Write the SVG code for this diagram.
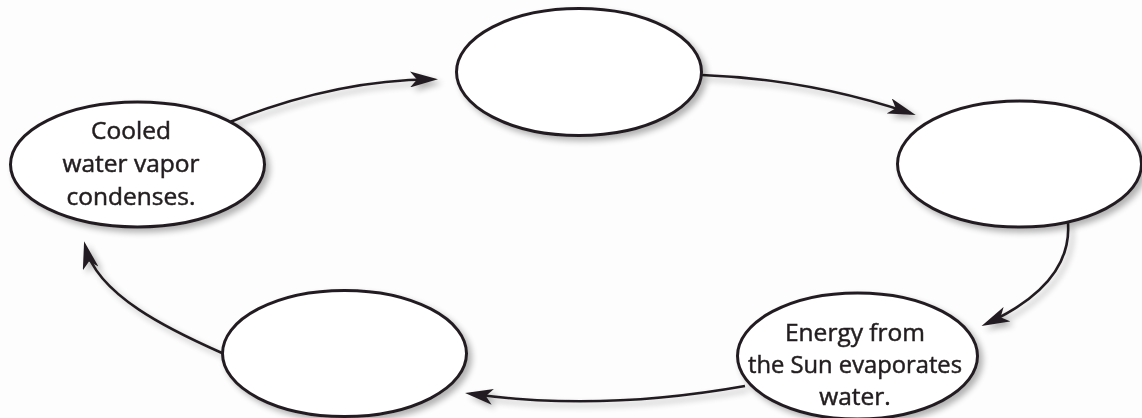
<svg xmlns="http://www.w3.org/2000/svg" width="1142" height="418" viewBox="0 0 1142 418">
  <style>
    .node ellipse { fill: #ffffff; stroke: #231f20; stroke-width: 3; }
    .label { font-family: "Open Sans", "Noto Sans", "Liberation Sans", sans-serif; font-size: 24.5px; fill: #231f20; stroke: #231f20; stroke-width: 0.5; text-anchor: middle; }
    .conn { fill: none; stroke: #231f20; stroke-width: 2.6; marker-end: url(#arrow); }
  </style>
  <defs>
    <filter id="shadow" x="-20%" y="-20%" width="150%" height="150%">
      <feGaussianBlur in="SourceAlpha" stdDeviation="3"/>
      <feOffset dx="4" dy="4" result="b"/>
      <feComponentTransfer><feFuncA type="linear" slope="0.3"/></feComponentTransfer>
      <feMerge><feMergeNode/><feMergeNode in="SourceGraphic"/></feMerge>
    </filter>
    <marker id="arrow" markerUnits="userSpaceOnUse" viewBox="0 0 28 16" markerWidth="28" markerHeight="16" refX="22" refY="8" orient="auto">
      <path d="M0,0 L28,8 L0,16 L7,8 Z" fill="#231f20"/>
    </marker>
  </defs>
  <rect width="1142" height="418" fill="#fdfdfd"/>
  <g id="connectors" filter="url(#shadow)">
    <path class="conn" d="M230,122 Q335,80 432,79.3"/>
    <path class="conn" d="M702,75 Q809,79 910,113"/>
    <path class="conn" d="M1068,223 C1071,265 1042,298 987,323.5"/>
    <path class="conn" d="M745,386 Q600,412 471,393.8"/>
    <path class="conn" d="M222,353 C170,330 97,295 85.5,247"/>
  </g>
  <g id="node-condenses" class="node" filter="url(#shadow)">
    <ellipse cx="137.5" cy="164.5" rx="127" ry="62.5"/>
    <text class="label" x="131" y="139">Cooled</text>
    <text class="label" x="131" y="172">water vapor</text>
    <text class="label" x="131" y="205">condenses.</text>
  </g>
  <g id="node-top" class="node" filter="url(#shadow)">
    <ellipse cx="579" cy="72" rx="122.5" ry="63.5"/>
  </g>
  <g id="node-right" class="node" filter="url(#shadow)">
    <ellipse cx="1019.5" cy="164" rx="122" ry="63"/>
  </g>
  <g id="node-evaporates" class="node" filter="url(#shadow)">
    <ellipse cx="857.5" cy="356" rx="120" ry="63"/>
    <text class="label" x="855" y="341">Energy from</text>
    <text class="label" x="855" y="373" textLength="214" lengthAdjust="spacingAndGlyphs">the Sun evaporates</text>
    <text class="label" x="855" y="405">water.</text>
  </g>
  <g id="node-bottom-left" class="node" filter="url(#shadow)">
    <ellipse cx="344.5" cy="353.5" rx="122" ry="63"/>
  </g>
</svg>
